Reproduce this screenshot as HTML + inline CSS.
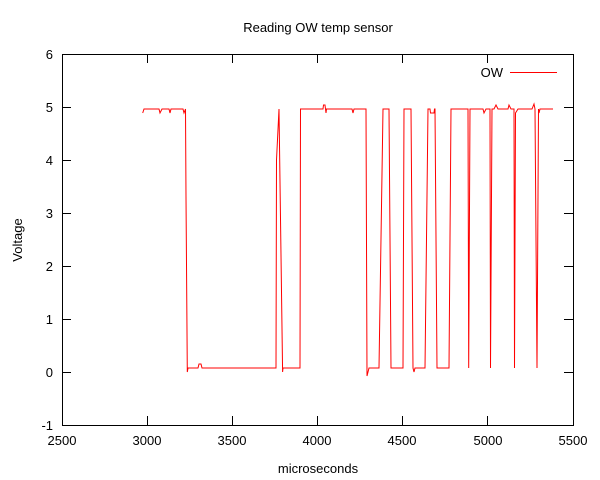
<!DOCTYPE html><html><head><style>body{margin:0;background:#fff}svg{display:block}text{font-family:"Liberation Sans",Arial,sans-serif;font-size:13px;fill:#000}</style></head><body>
<svg width="600" height="480" viewBox="0 0 600 480">
<rect x="62.5" y="54.5" width="511" height="371" fill="none" stroke="#000" stroke-width="1"/>
<g stroke="#000" stroke-width="1">
<path d="M62 425.5h9M573 425.5h-9M62 372.5h9M573 372.5h-9M62 319.5h9M573 319.5h-9M62 266.5h9M573 266.5h-9M62 213.5h9M573 213.5h-9M62 160.5h9M573 160.5h-9M62 107.5h9M573 107.5h-9M62 54.5h9M573 54.5h-9"/>
<path d="M62.5 425v-9M62.5 54v9M232.5 425v-9M232.5 54v9M402.5 425v-9M402.5 54v9M573.5 425v-9M573.5 54v9M147.5 425v-9M147.5 54v9M317.5 425v-9M317.5 54v9M487.5 425v-9M487.5 54v9"/>
<path d="M510 72.5h47"/>
</g>
<path d="M510 72.5h47" stroke="#f00"/>
<g text-anchor="end">
<text x="53" y="430">-1</text><text x="53" y="377">0</text><text x="53" y="324">1</text><text x="53" y="271">2</text><text x="53" y="218">3</text><text x="53" y="165">4</text><text x="53" y="112">5</text><text x="53" y="59">6</text>
</g>
<g text-anchor="middle">
<text x="62" y="445">2500</text><text x="147" y="445">3000</text><text x="232" y="445">3500</text><text x="317" y="445">4000</text><text x="402" y="445">4500</text><text x="488" y="445">5000</text><text x="573" y="445">5500</text>
<text x="318" y="473">microseconds</text>
<text x="318" y="32">Reading OW temp sensor</text>
<text transform="translate(22,240) rotate(-90)">Voltage</text>
</g>
<text x="503" y="77" text-anchor="end">OW</text>
<polyline fill="none" stroke="#f00" stroke-width="1" points="142.7,113 144,109 159,109 160,113 162,109 169,109 170,113 171,109 183,109 184,113 185.5,109 186,197 187.3,372 188,368 198,368 199,364 201,364 202,368 276,368 276.5,160 279,109 282.6,372 283,368 300,368 300.5,109 323,109 323.5,105 325,105 326,113 326.5,109 352,109 353,113 354,109 366,109 367,376 369,368 379,368 383,109 389,109 391,368 403,368 404,109 411,109 413,368 414,372 415,368 425,368 428,109 430,109 430.5,113 434,113 434.5,109 435,109 437,368 449,368 451,109 468,109 468.7,368 470,109 483,109 484,113 486,109 490,109 490.5,368 492,109 494,109 496,105 498,109 508,109 509,105 511,109 514,109 514.5,368 515.5,113 518,109 532,109 534,104 535,109 537,368 538.5,109 539,113 540,109 553,109"/>
</svg>
</body></html>
